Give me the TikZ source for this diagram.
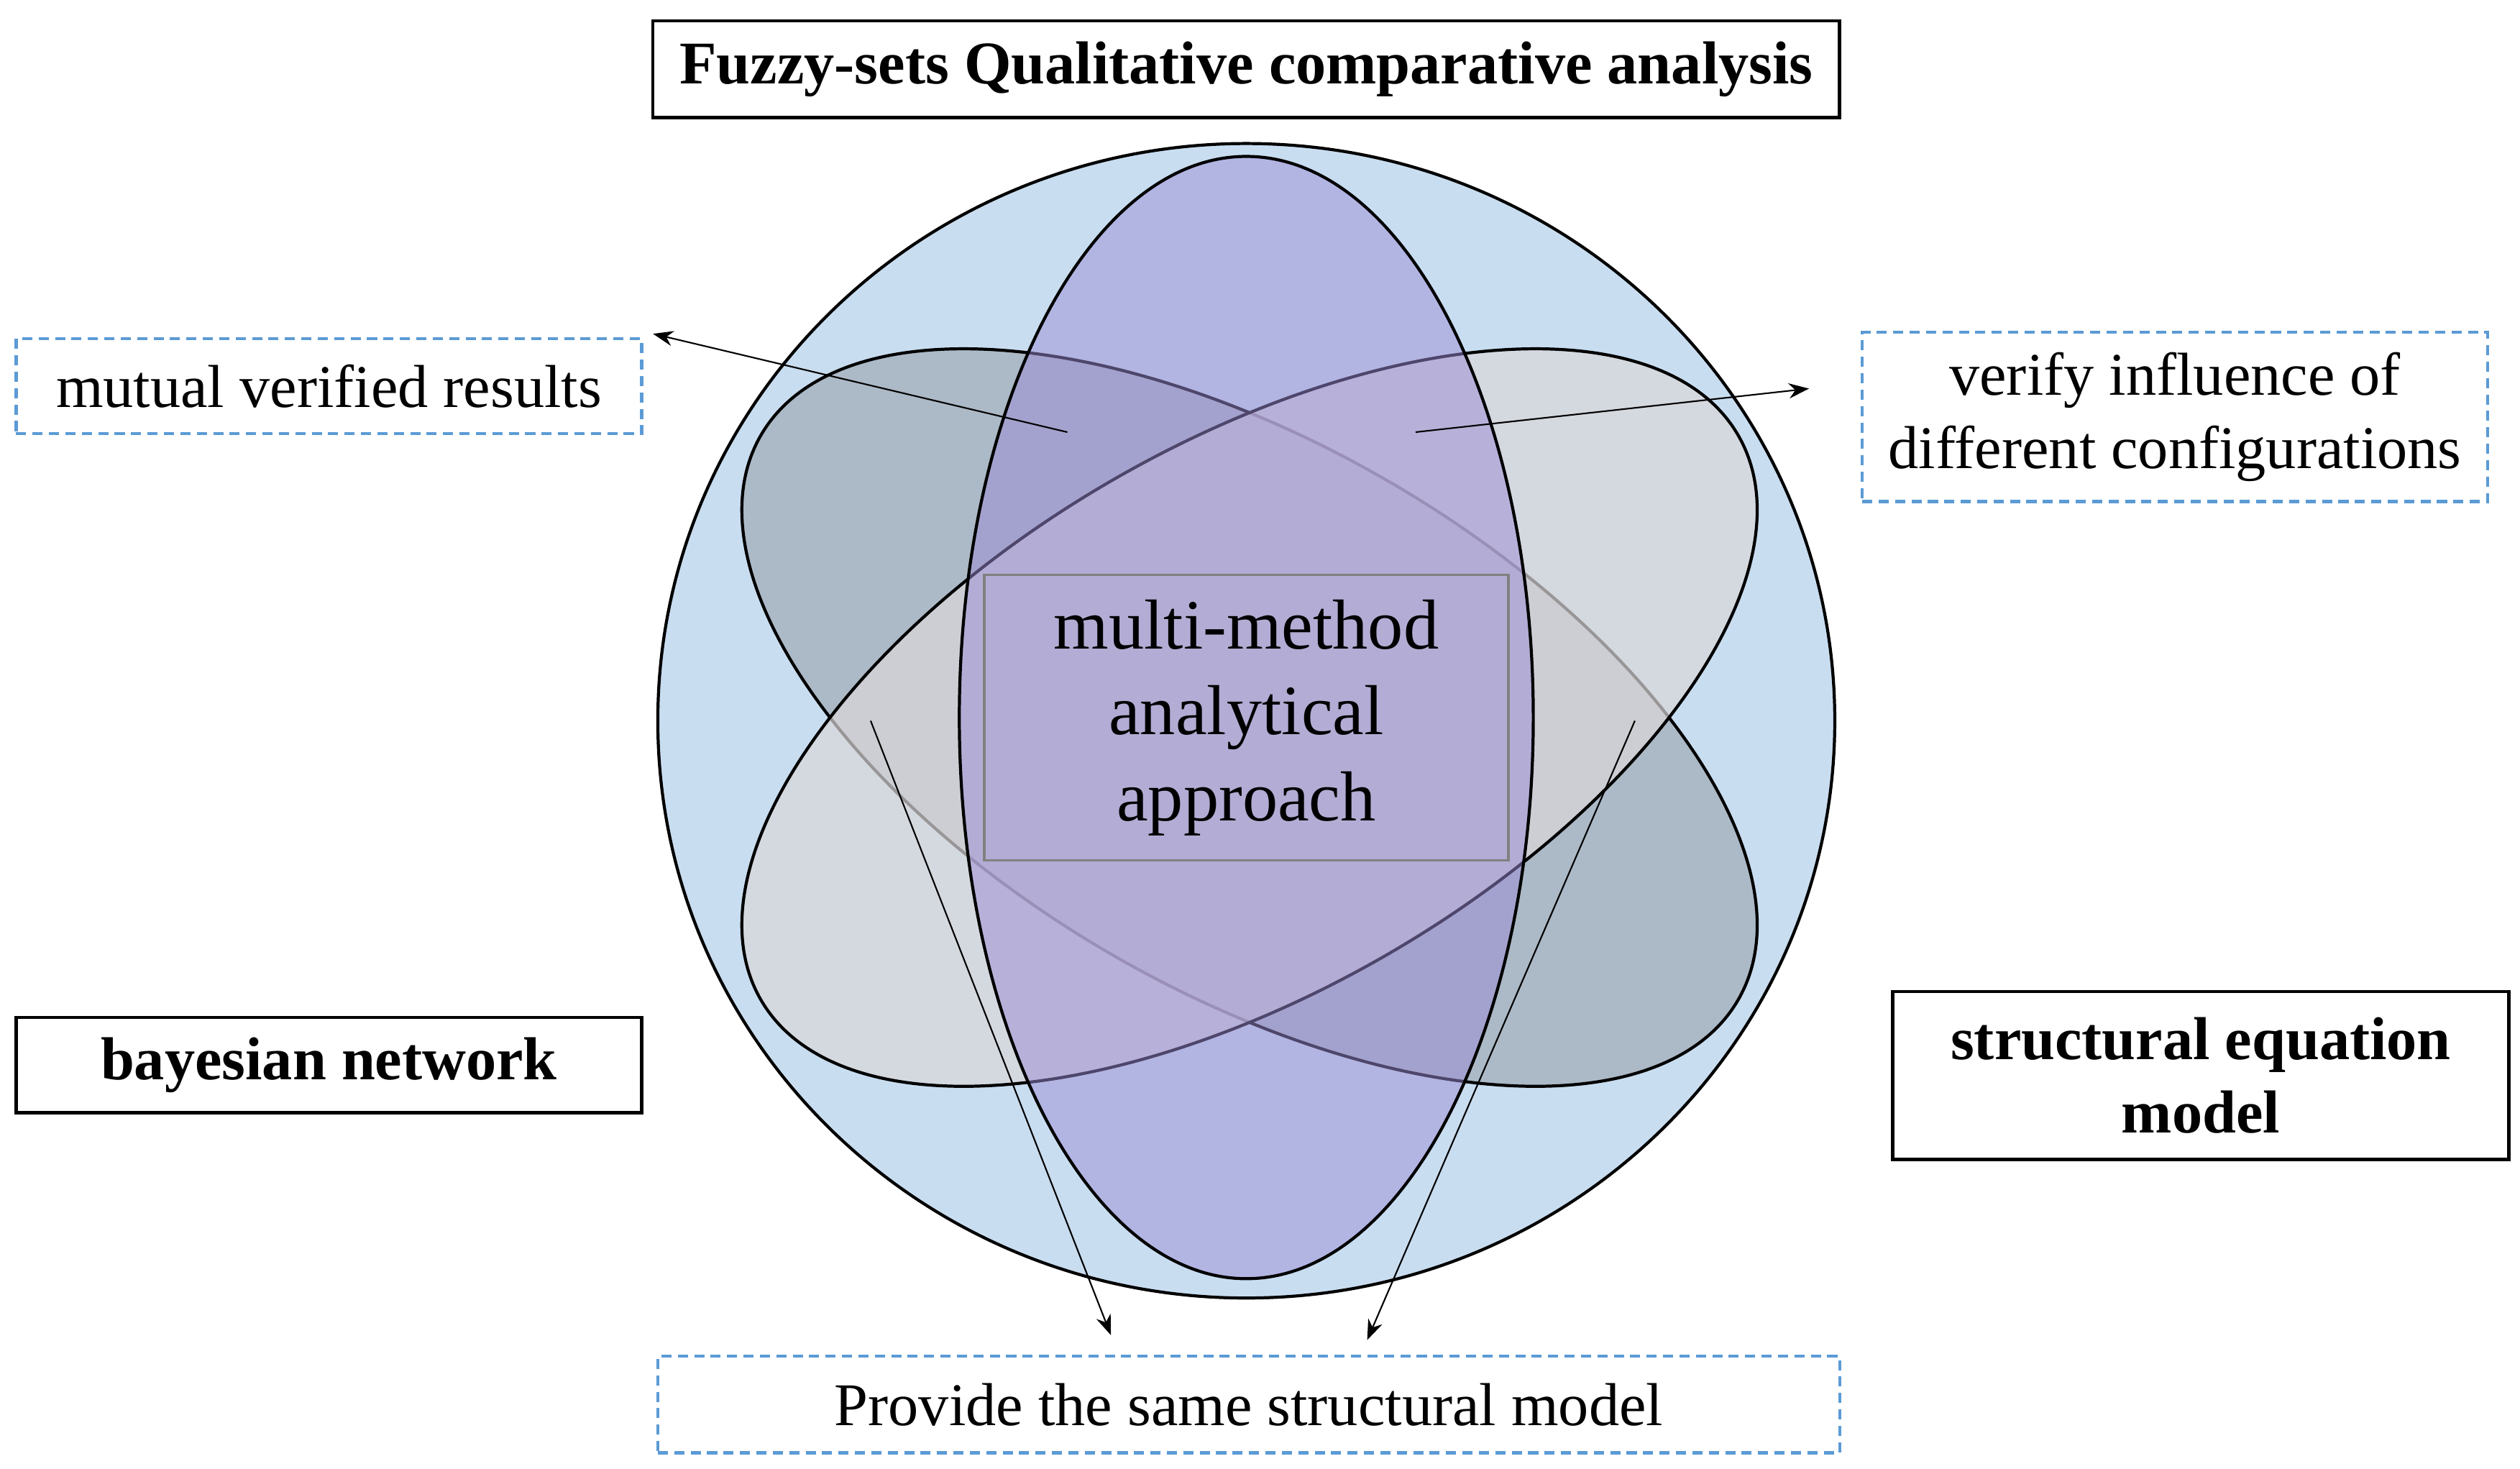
\documentclass[tikz,border=0pt]{standalone}
\usepackage{fontspec}
\setmainfont{Liberation Serif}
\usetikzlibrary{arrows.meta}
\definecolor{circ}{HTML}{C9DDF0}
\definecolor{ellA}{HTML}{A7B3BF}
\definecolor{ellB}{HTML}{DAD7D9}
\definecolor{ellV}{HTML}{9C8CD6}
\definecolor{dashb}{HTML}{5B9BD5}
\tikzset{
 lab/.style={draw=black,line width=1.3pt,inner sep=0pt,align=center},
 dlab/.style={draw=dashb,dashed,dash pattern=on 4pt off 2.5pt,line width=1.2pt,inner sep=0pt,align=center},
 arr/.style={-{Stealth[length=8pt,width=6pt]},line width=0.6pt},
 outl/.style={draw=black,line width=1.2pt}
}
\begin{document}
\begin{tikzpicture}[x=0.022425cm,y=-0.022425cm]
\useasboundingbox (0,0) rectangle (1563,911);
\draw[outl,fill=circ] (773,447) ellipse [x radius=365,y radius=358];
\draw[outl,fill=ellA,fill opacity=0.85] [rotate around={-30:(775,445)}] (775,445) ellipse [x radius=350,y radius=170];
\draw[outl,fill=ellB,fill opacity=0.7] [rotate around={30:(775,445)}] (775,445) ellipse [x radius=350,y radius=170];
\draw[outl,fill=ellV,fill opacity=0.5] (773,445) ellipse [x radius=178,y radius=348];
\node[draw=gray,line width=1pt,minimum width=325*0.022425cm,minimum height=177*0.022425cm,align=center,font=\fontsize{28}{34}\selectfont] (c) at (773,445) {multi-method\\analytical\\approach};
\node[lab,minimum width=736*0.022425cm,minimum height=60*0.022425cm,font=\bfseries\fontsize{24}{28}\selectfont] (t) at (773,43) {Fuzzy-sets Qualitative comparative analysis};
\node[dlab,minimum width=388*0.022425cm,minimum height=59*0.022425cm,font=\fontsize{24}{28}\selectfont] (m) at (204,239.5) {mutual verified results};
\node[dlab,minimum width=388*0.022425cm,minimum height=105*0.022425cm,font=\fontsize{24}{29}\selectfont] (v) at (1349,258.5) {verify influence of\\different configurations};
\node[lab,minimum width=388*0.022425cm,minimum height=59*0.022425cm,font=\bfseries\fontsize{24}{28}\selectfont] (b) at (204,660.5) {bayesian network};
\node[lab,minimum width=382*0.022425cm,minimum height=104*0.022425cm,font=\bfseries\fontsize{24}{29}\selectfont] (s) at (1365,667) {structural equation\\model};
\node[dlab,minimum width=733*0.022425cm,minimum height=60*0.022425cm,font=\fontsize{24}{28}\selectfont] (p) at (774.5,871) {Provide the same structural model};
\coordinate (a1) at (662,268); \coordinate (a1e) at (405,207);
\coordinate (a2) at (878,268); \coordinate (a2e) at (1122,241);
\coordinate (a3) at (540,447); \coordinate (a3e) at (689,828);
\coordinate (a4) at (1014,447); \coordinate (a4e) at (848,831);
\draw[arr] (a1) -- (a1e);
\draw[arr] (a2) -- (a2e);
\draw[arr] (a3) -- (a3e);
\draw[arr] (a4) -- (a4e);
\end{tikzpicture}
\end{document}
